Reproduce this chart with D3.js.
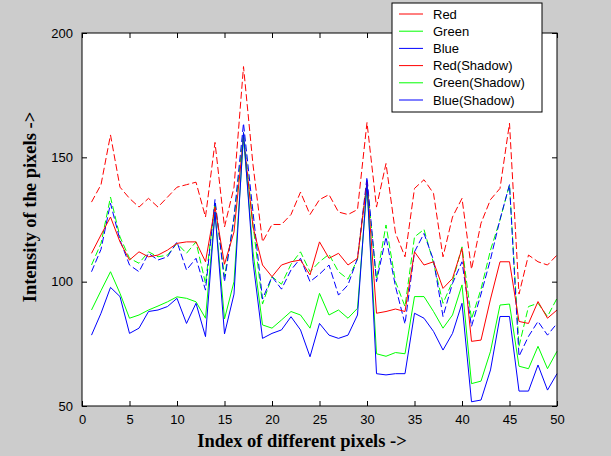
<!DOCTYPE html>
<html>
<head>
<meta charset="utf-8">
<script src="https://cdn.jsdelivr.net/npm/d3@7"></script>
<style>
  body { margin: 0; background: #cccccc; }
  svg { display: block; }
</style>
</head>
<body>
<div id="chart"></div>
<script>
const xTicks = [0, 5, 10, 15, 20, 25, 30, 35, 40, 45, 50];
const yTicks = [50, 100, 150, 200];
const seriesNames = ["Red", "Green", "Blue", "Red(Shadow)", "Green(Shadow)", "Blue(Shadow)"];

const red = [132, 139, 159, 138, 133.5, 130, 133.5, 130, 134, 138, 139, 140, 126, 156, 122, 138, 186.5, 147, 116, 123,
  123, 127, 136, 127, 133, 135, 128, 127, 129, 164, 130, 147.5, 119.5, 110, 137.5, 141, 135.5, 110, 126, 133.5,
  105, 123.5, 133, 137.5, 163.7, 95, 110.7, 108, 106.7, 110.7];
const green = [106.7, 115.4, 134, 118, 109.4, 107.4, 112, 110, 110.7, 115.4, 111.4, 116, 99.3, 132, 102, 124.8, 160, 123, 91, 102,
  99, 107, 112, 104, 108, 111, 104, 101, 109, 140, 101, 122.8, 100, 90, 118, 121, 107.4, 91.3, 100, 114,
  85, 97, 112.7, 124.8, 139, 74, 90, 91.3, 86, 93.3];
const blue = [104, 113, 131.5, 116.7, 106.7, 104, 111.4, 108.7, 110, 116, 104.7, 109.4, 96.6, 133, 100, 126, 163.7, 128, 93, 102,
  97, 104.7, 109.4, 100, 103, 106.7, 94.6, 98.7, 109.4, 142, 100, 118, 98, 83, 112, 119.4, 108.7, 86, 99.3, 108,
  82, 95, 109, 125, 139, 70, 78, 84, 78.5, 83.2];
const redShadow = [111.4, 118.8, 126, 116, 108.7, 112, 110, 110.7, 112.7, 115.4, 116, 116, 108, 130, 107, 120, 158, 122, 106.7, 102,
  106.7, 108, 108.7, 102.7, 116, 109.4, 111.4, 106.7, 109.4, 140, 87.3, 88, 89, 88, 112, 106.7, 108, 97.3, 101.3, 113.4,
  76, 76.5, 93, 108, 108, 84, 83.2, 92, 85.3, 88.6];
const greenShadow = [88.6, 96.4, 104, 95.3, 85.3, 86.6, 88.6, 90.2, 91.9, 93.9, 93.3, 91.9, 85.3, 128, 85, 100, 158, 112, 82.6, 81.3,
  84.6, 88, 86.6, 81.3, 95.3, 86.6, 88.6, 85.3, 89.3, 138, 71, 70, 71.5, 71, 94, 94, 88, 81.3, 86.6, 98.7,
  59, 60, 72, 90.6, 91, 66, 65, 74, 65, 72];
const blueShadow = [78.5, 87.3, 97.7, 94, 79.2, 81.3, 88, 88.6, 90, 93.3, 83.2, 91.3, 77.9, 128, 79, 95, 160, 108, 77.2, 79.2,
  80.6, 85.9, 80.6, 69.8, 83.2, 78.5, 77.2, 78.5, 86.6, 140, 63, 62.5, 63, 63, 87.3, 85.3, 80, 72.5, 79.2, 91.3,
  51.7, 52.4, 64.5, 86, 86, 56, 56, 66.5, 56.4, 63];

const width = 611, height = 456;
const plot = { left: 82, right: 557, top: 33, bottom: 406 };

const svg = d3.select("#chart").append("svg")
  .attr("width", width)
  .attr("height", height);

svg.append("rect")
  .attr("width", width).attr("height", height)
  .attr("fill", "#cccccc");

svg.append("rect")
  .attr("x", plot.left).attr("y", plot.top)
  .attr("width", plot.right - plot.left)
  .attr("height", plot.bottom - plot.top)
  .attr("fill", "#ffffff");

const x = d3.scaleLinear().domain([0, 50]).range([plot.left, plot.right]);
const y = d3.scaleLinear().domain([50, 200]).range([plot.bottom, plot.top]);

const series = [
  { name: seriesNames[0], values: red, color: "#ff0000", dash: "7,3" },
  { name: seriesNames[1], values: green, color: "#00ff00", dash: "7,3" },
  { name: seriesNames[2], values: blue, color: "#0000ff", dash: "7,3" },
  { name: seriesNames[3], values: redShadow, color: "#ff0000", dash: null },
  { name: seriesNames[4], values: greenShadow, color: "#00ff00", dash: null },
  { name: seriesNames[5], values: blueShadow, color: "#0000ff", dash: null }
];

const line = d3.line()
  .x((d, i) => x(i + 1))
  .y(d => y(d));

svg.append("g").selectAll("path")
  .data(series)
  .enter().append("path")
  .attr("d", s => line(s.values))
  .attr("fill", "none")
  .attr("stroke", s => s.color)
  .attr("stroke-width", 1)
  .attr("stroke-dasharray", s => s.dash);

// axes, ticks inward like matlab
const axisFont = "'Liberation Sans', Arial, sans-serif";
svg.append("g")
  .attr("transform", `translate(0,${plot.bottom})`)
  .call(d3.axisBottom(x).tickValues(xTicks).tickSizeInner(-5).tickSizeOuter(0).tickPadding(9))
  .call(g => g.select(".domain").remove())
  .selectAll("text").style("font-family", axisFont).style("font-size", "13px").attr("fill", "#000");

svg.append("g")
  .attr("transform", `translate(0,${plot.top})`)
  .call(d3.axisTop(x).tickValues(xTicks).tickSizeInner(-5).tickSizeOuter(0).tickFormat(""))
  .call(g => g.select(".domain").remove());

svg.append("g")
  .attr("transform", `translate(${plot.left},0)`)
  .call(d3.axisLeft(y).tickValues(yTicks).tickSizeInner(-5).tickSizeOuter(0).tickPadding(9))
  .call(g => g.select(".domain").remove())
  .selectAll("text").style("font-family", axisFont).style("font-size", "13px").attr("fill", "#000");

svg.append("g")
  .attr("transform", `translate(${plot.right},0)`)
  .call(d3.axisRight(y).tickValues(yTicks).tickSizeInner(-5).tickSizeOuter(0).tickFormat(""))
  .call(g => g.select(".domain").remove());

svg.append("rect")
  .attr("x", plot.left).attr("y", plot.top)
  .attr("width", plot.right - plot.left)
  .attr("height", plot.bottom - plot.top)
  .attr("fill", "none")
  .attr("stroke", "#000")
  .attr("stroke-width", 1);

svg.append("text")
  .attr("x", 302).attr("y", 447)
  .attr("text-anchor", "middle")
  .style("font-family", "'Liberation Serif', 'Times New Roman', serif")
  .style("font-weight", "bold")
  .style("font-size", "18.5px")
  .text("Index of different pixels  ->");

svg.append("text")
  .attr("transform", "translate(36,207) rotate(-90)")
  .attr("text-anchor", "middle")
  .style("font-family", "'Liberation Serif', 'Times New Roman', serif")
  .style("font-weight", "bold")
  .style("font-size", "18.5px")
  .text("Intensity of the pixels ->");

// legend
const legend = svg.append("g");
legend.append("rect")
  .attr("x", 392).attr("y", 3)
  .attr("width", 150).attr("height", 109)
  .attr("fill", "#fff")
  .attr("stroke", "#000");

const rows = legend.selectAll("g.row")
  .data(series)
  .enter().append("g")
  .attr("class", "row")
  .attr("transform", (d, i) => `translate(0,${14 + i * 17.2})`);

rows.append("line")
  .attr("x1", 399).attr("x2", 423)
  .attr("stroke", d => d.color)
  .attr("stroke-width", 1);

rows.append("text")
  .attr("x", 433).attr("dy", "0.35em")
  .style("font-family", axisFont)
  .style("font-size", "13px")
  .text(d => d.name);
</script>
</body>
</html>
